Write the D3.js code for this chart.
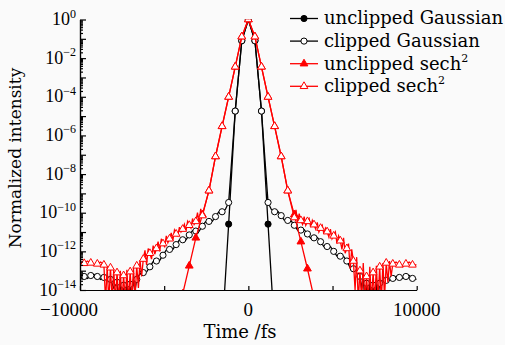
<!DOCTYPE html>
<html>
<head>
<meta charset="utf-8">
<script src="https://cdn.jsdelivr.net/npm/d3@7"></script>
<style>
body{margin:0;background:#fafafa}
svg{display:block}
</style>
</head>
<body>
<div id="chart"></div>
<script>
// sample times (fs), one marker per sample
const timeFs = [-9750, -9360, -8970, -8580, -8190, -7800, -7410, -7020, -6630, -6240,
    -5850, -5460, -5070, -4680, -4290, -3900, -3510, -3120, -2730, -2340,
    -1950, -1560, -1170, -780, -390, 0, 390, 780, 1170, 1560,
    1950, 2340, 2730, 3120, 3510, 3900, 4290, 4680, 5070, 5460,
    5850, 6240, 6630, 7020, 7410, 7800, 8190, 8580, 8970, 9360, 9750]

// intensities stored as log10 exponents, null = far below the axis
const gaussUnclipped = [null, null, null, null, null, null, null, null, null, null,
    null, null, null, null, null, null, null, null, null, null,
    null, -16.2, -10.59, -4.74, -1.1, 0, -1.1, -4.74, -10.59, -16.2,
    null, null, null, null, null, null, null, null, null, null,
    null, null, null, null, null, null, null, null, null, null, null]

const gaussClipped = [-13.3, -13.25, -13.3, -13.35, -13.45, -13.6, -13.75, -13.7, -13.45, -13.1,
    -12.8, -12.5, -12.2, -11.9, -11.65, -11.4, -11.15, -10.95, -10.7, -10.45,
    -10.2, -9.95, -9.47, -4.74, -1.1, 0, -1.1, -4.74, -9.47, -9.95,
    -10.15, -10.4, -10.65, -10.9, -11.1, -11.3, -11.5, -11.75, -12.0, -12.25,
    -12.5, -12.9, -13.3, -13.65, -13.75, -13.65, -13.5, -13.4, -13.35, -13.3, -13.4]

const sechUnclipped = [null, null, null, null, null, null, null, null, null, null,
    null, null, null, null, null, -14.2, -12.75, -11.3, -10.1, -8.86,
    -7.09, -5.53, -4.01, -2.45, -0.89, 0, -0.89, -2.45, -4.01, -5.53,
    -7.09, -8.86, -10.1, -11.5, -12.9, -14.4, null, null, null, null,
    null, null, null, null, null, null, null, null, null, null, null]

const sechClipped = [-12.62, -12.6, -12.65, -12.7, -12.85, -13.1, -13.25, -13.05, -12.75, -12.4,
    -12.1, -11.85, -11.6, -11.35, -11.1, -10.85, -10.65, -10.45, -10.15, -8.86,
    -7.09, -5.53, -4.01, -2.45, -0.89, 0, -0.89, -2.45, -4.01, -5.53,
    -7.09, -8.86, -10.25, -10.4, -10.45, -10.62, -10.8, -10.98, -11.2, -11.45,
    -11.85, -12.5, -13.0, -13.3, -13.1, -12.8, -12.6, -12.65, -12.7, -12.65, -12.7]

// extra line points between markers (noise of the clipped pulses): [time, log10]
const gaussRipple = [[-10000, -13.35], [-9555, -13.4], [-9165, -13.2], [-8775, -13.45], [-8385, -13.3],
    [-7995, -13.9], [-7700, -14.5], [-7605, -13.55], [-7510, -14.5], [-7310, -14.6], [-7215, -13.6],
    [-7120, -14.6], [-6920, -14.3], [-6825, -13.45], [-6730, -14.0],
    [-6435, -13.15], [-6045, -13.07], [-5655, -12.53], [-5265, -12.47], [-4875, -11.93], [-4485, -11.9],
    [-4095, -11.41], [-3705, -11.4], [-3315, -10.93], [-2925, -10.95], [-2535, -10.46], [-2145, -10.45],
    [-1755, -9.96], [-1365, -9.83],
    [1365, -9.83], [1755, -9.93], [2145, -10.4], [2535, -10.41], [2925, -10.9], [3315, -10.88],
    [3705, -11.32], [4095, -11.28], [4485, -11.75], [4875, -11.76], [5265, -12.25], [5655, -12.26],
    [6045, -12.85], [6435, -13.0], [6730, -13.9], [6825, -13.4], [6920, -14.5], [7120, -14.6],
    [7215, -13.6], [7310, -14.6], [7510, -14.5], [7605, -13.7], [7700, -14.4], [7995, -13.5],
    [8385, -13.5], [8775, -13.3], [9165, -13.4], [9555, -13.25], [10000, -13.45]]

const sechRipple = [[-10000, -12.55], [-9555, -12.5], [-9165, -12.72], [-8775, -12.55],
    [-8480, -14.6], [-8385, -12.8], [-8290, -14.6], [-8090, -14.6], [-7995, -12.95], [-7900, -14.6],
    [-7700, -14.6], [-7605, -13.0], [-7510, -14.6], [-7310, -14.6], [-7215, -12.95], [-7120, -14.6],
    [-6920, -14.6], [-6825, -12.85], [-6730, -14.4], [-6530, -13.9], [-6435, -12.45], [-6340, -13.3],
    [-6140, -11.95], [-6045, -12.7], [-5950, -11.85], [-5750, -12.4], [-5655, -11.7], [-5560, -12.15],
    [-5360, -11.5], [-5265, -12.0], [-5170, -11.35], [-4970, -11.75], [-4875, -11.2], [-4780, -11.55],
    [-4580, -11.05], [-4485, -11.45], [-4390, -10.9], [-4190, -11.2], [-4095, -10.75], [-4000, -11.0],
    [-3800, -10.6], [-3705, -10.95], [-3610, -10.45], [-3410, -10.8], [-3315, -10.3], [-3220, -10.6],
    [-3020, -10.0], [-2925, -10.55], [-2830, -9.8],
    [2830, -9.85], [2925, -10.5], [3020, -10.05], [3220, -10.6], [3315, -10.2], [3410, -10.65],
    [3610, -10.3], [3705, -10.75], [3800, -10.4], [4000, -10.85], [4095, -10.5], [4190, -11.0],
    [4390, -10.65], [4485, -11.1], [4580, -10.8], [4780, -11.25], [4875, -10.85], [4970, -11.35],
    [5170, -11.0], [5265, -11.6], [5360, -11.2], [5560, -11.9], [5655, -11.3], [5750, -12.1],
    [5950, -11.6], [6045, -12.9], [6140, -11.9], [6340, -14.0], [6435, -12.3], [6530, -14.6],
    [6730, -14.6], [6825, -12.6], [6920, -14.6], [7120, -14.6], [7215, -12.8], [7310, -14.6],
    [7510, -14.6], [7605, -12.75], [7700, -14.6], [7900, -14.6], [7995, -12.6], [8090, -14.4],
    [8290, -13.6], [8385, -12.5], [8480, -13.3], [8775, -12.55], [9165, -12.8], [9555, -12.55], [10000, -12.7]]

const xTicks = [-10000, -5000, 0, 5000, 10000]
const xTickLabels = {"-10000": "\u221210000", "0": "0", "10000": "10000"}
const yLabelExps = [0, -2, -4, -6, -8, -10, -12, -14]
const legendNames = ["unclipped Gaussian", "clipped Gaussian", "unclipped sech", "clipped sech"]

const W = 505, H = 345
const x0 = 80, x1 = 416.7, yTop = 19.5, yBot = 290

const svg = d3.select("#chart").append("svg").attr("width", W).attr("height", H)
svg.append("rect").attr("width", W).attr("height", H).attr("fill", "#fafafa")

const x = d3.scaleLinear().domain([-10000, 10000]).range([x0, x1])
const y = d3.scaleLog().domain([1e-14, 1]).range([yBot, yTop])
const py = v => y(Math.pow(10, v))

svg.append("defs").append("clipPath").attr("id", "plotClip")
    .append("rect").attr("x", x0).attr("y", yTop).attr("width", x1 - x0).attr("height", yBot - yTop)

function seriesPoints(vals) {
    return timeFs.map((t, i) => [t, vals[i]]).filter(d => d[1] != null)
}
function withRipple(vals, ripple) {
    return seriesPoints(vals).concat(ripple).sort((a, b) => a[0] - b[0])
}

const line = d3.line().x(d => x(d[0])).y(d => py(d[1]))
const circle = d3.symbol().type(d3.symbolCircle).size(30)
const tri = d3.symbol().type(d3.symbolTriangle).size(26)

const series = [
    {name: legendNames[0], line: seriesPoints(gaussUnclipped), pts: seriesPoints(gaussUnclipped), color: "#000", sym: circle, fill: "#000"},
    {name: legendNames[1], line: withRipple(gaussClipped, gaussRipple), pts: seriesPoints(gaussClipped), color: "#000", sym: circle, fill: "#fff"},
    {name: legendNames[2], line: seriesPoints(sechUnclipped), pts: seriesPoints(sechUnclipped), color: "#f00", sym: tri, fill: "#f00"},
    {name: legendNames[3], line: withRipple(sechClipped, sechRipple), pts: seriesPoints(sechClipped), color: "#f00", sym: tri, fill: "#fff"}
]

const plot = svg.append("g").attr("clip-path", "url(#plotClip)")
series.forEach(function(s) {
    const g = plot.append("g")
    g.append("path").datum(s.line).attr("d", line)
        .attr("fill", "none").attr("stroke", s.color).attr("stroke-width", 1.3)
    g.selectAll("path.mk").data(s.pts).enter().append("path").attr("class", "mk")
        .attr("transform", d => `translate(${x(d[0])},${py(d[1])})`)
        .attr("d", s.sym())
        .attr("fill", s.fill).attr("stroke", s.color).attr("stroke-width", 1)
})

// axes
const minorTicks = []
for (let e = -14; e < 0; e++) for (let m = 2; m < 10; m++) minorTicks.push(m * Math.pow(10, e))
const decades = d3.range(-14, 1).map(e => Math.pow(10, e))

svg.append("g").attr("transform", `translate(${x0},0)`)
    .call(d3.axisLeft(y).tickValues(minorTicks).tickSizeInner(-3).tickSizeOuter(0).tickFormat(""))
svg.append("g").attr("transform", `translate(${x0},0)`)
    .call(d3.axisLeft(y).tickValues(decades).tickSizeInner(-6).tickSizeOuter(0).tickFormat(""))

svg.append("g").attr("transform", `translate(0,${yBot})`)
    .call(d3.axisBottom(x).tickValues(xTicks).tickSizeInner(-4).tickSizeOuter(0).tickFormat(""))

svg.selectAll(".domain, .tick line").attr("stroke", "#000").attr("stroke-width", 1.2)

const fontNum = "'Liberation Serif', serif"
const fontTxt = "'DejaVu Serif', serif"

xTicks.filter(t => xTickLabels[t] !== undefined).forEach(function(t) {
    svg.append("text")
        .attr("x", x(t) + (t === -10000 ? -11 : 0)).attr("y", 316)
        .attr("text-anchor", "middle")
        .attr("font-family", fontNum).attr("font-size", 19)
        .text(xTickLabels[t])
})

yLabelExps.forEach(function(e) {
    const t = svg.append("text")
        .attr("x", 76).attr("y", py(e) + 5.5)
        .attr("text-anchor", "end")
        .attr("font-family", fontNum).attr("font-size", 18)
    t.append("tspan").text("10")
    t.append("tspan").attr("font-size", 12).attr("dy", -7.5)
        .text(e === 0 ? "0" : "\u2212" + (-e))
})

svg.append("text").attr("x", 240).attr("y", 338).attr("text-anchor", "middle")
    .attr("font-family", fontTxt).attr("font-size", 18).text("Time /fs")

svg.append("text").attr("transform", "translate(21,158) rotate(-90)").attr("text-anchor", "middle")
    .attr("font-family", fontTxt).attr("font-size", 17).text("Normalized intensity")

// legend
const leg = svg.append("g")
series.forEach(function(s, i) {
    const ly = 18.5 + i * 22.6
    leg.append("line").attr("x1", 290).attr("x2", 318).attr("y1", ly).attr("y2", ly)
        .attr("stroke", s.color).attr("stroke-width", 1.3)
    leg.append("path").attr("transform", `translate(304,${ly})`).attr("d", s.sym())
        .attr("fill", s.fill).attr("stroke", s.color).attr("stroke-width", 1)
    const t = leg.append("text").attr("x", 324).attr("y", ly + 5.8)
        .attr("font-family", fontTxt).attr("font-size", 18).text(s.name)
    if (i >= 2) t.append("tspan").attr("font-size", 11).attr("dy", -8).text("2")
})
</script>
</body>
</html>
